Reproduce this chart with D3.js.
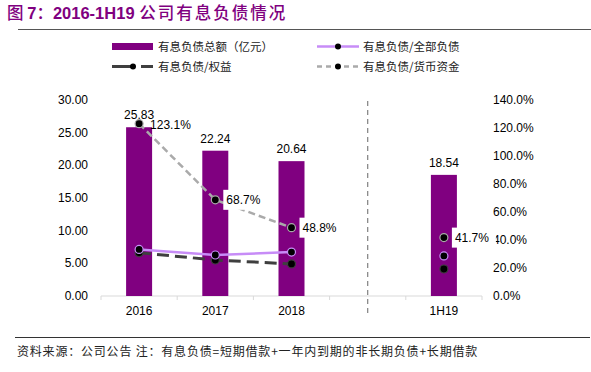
<!DOCTYPE html>
<html lang="zh">
<head>
<meta charset="UTF-8">
<title>2016-1H19 公司有息负债情况</title>
<script src="https://d3js.org/d3.v7.min.js"></script>
<style>
  body { margin: 0; background: #fff; }
  svg { display: block; font-family: "Liberation Sans", Arial, sans-serif; }
  .cjk { font-family: "Noto Sans CJK SC", sans-serif; }
</style>
</head>
<body>
<svg width="591" height="372"></svg>
<script>
// chart data
const categories = ["2016", "2017", "2018", "", "1H19"];
const debtTotal = [25.83, 22.24, 20.64, null, 18.54];        // 有息负债总额（亿元）
const debtToAll = [33.3, 29.3, 31.4, null, 28.6];            // 有息负债/全部负债 (%)
const debtToEquity = [30.9, 25.7, 22.9, null, 19.3];         // 有息负债/权益 (%)
const debtToCash = [123.1, 68.7, 48.8, null, 41.7];          // 有息负债/货币资金 (%)
const leftTicks = [0, 5, 10, 15, 20, 25, 30];
const rightTicks = [0, 20, 40, 60, 80, 100, 120, 140];

const svg = d3.select("svg");
const purple = "#800080", violet = "#c78cf7", grey = "#aaaaaa", dark = "#3f3f3f";

// title + rules
const title = svg.append("text").attr("x", 7).attr("y", 19)
  .attr("fill", purple).attr("font-size", 16.5);
title.append("tspan").attr("class", "cjk").attr("font-weight", 500).text("图 ");
title.append("tspan").attr("font-weight", "bold").text("7");
title.append("tspan").attr("class", "cjk").attr("font-weight", 500).text("：");
title.append("tspan").attr("font-weight", "bold").text("2016-1H19 ");
title.append("tspan").attr("class", "cjk").attr("font-weight", 500)
  .attr("letter-spacing", 2).text("公司有息负债情况");
svg.append("line").attr("x1", 18).attr("x2", 591).attr("y1", 29.5).attr("y2", 29.5)
  .attr("stroke", "#555").attr("stroke-width", 1);
svg.append("line").attr("x1", 15).attr("x2", 590).attr("y1", 337.5).attr("y2", 337.5)
  .attr("stroke", "#333").attr("stroke-width", 1);
svg.append("text").attr("class", "cjk").attr("x", 17).attr("y", 356)
  .attr("font-size", 12).attr("letter-spacing", 0.8).attr("fill", "#222")
  .text("资料来源：公司公告 注：有息负债=短期借款+一年内到期的非长期负债+长期借款");

// scales
const x = d3.scaleBand().domain(categories.map((c, i) => i)).range([101, 482]).padding(0);
const yL = d3.scaleLinear().domain([0, 30]).range([296, 100]);
const yR = d3.scaleLinear().domain([0, 140]).range([296, 100]);
const cx = i => x(i) + x.bandwidth() / 2;

// axes
const gx = svg.append("g").attr("transform", "translate(0,296)");
gx.append("line").attr("x1", 101).attr("x2", 482).attr("stroke", "#d9d9d9");
gx.selectAll(".tk").data(d3.range(categories.length + 1)).join("line")
  .attr("x1", i => 101 + i * x.bandwidth()).attr("x2", i => 101 + i * x.bandwidth())
  .attr("y1", 0).attr("y2", 4).attr("stroke", "#d9d9d9");
gx.selectAll(".lb").data(categories).join("text")
  .attr("x", (d, i) => cx(i)).attr("y", 19).attr("text-anchor", "middle")
  .attr("font-size", 12).attr("fill", "#000").text(d => d);

svg.append("g").selectAll("text").data(leftTicks).join("text")
  .attr("x", 88).attr("y", d => yL(d) + 4).attr("text-anchor", "end")
  .attr("font-size", 12).attr("fill", "#000").text(d => d.toFixed(2));
svg.append("g").selectAll("text").data(rightTicks).join("text")
  .attr("x", 493).attr("y", d => yR(d) + 4)
  .attr("font-size", 12).attr("fill", "#000").text(d => d.toFixed(1) + "%");

// separator
svg.append("line").attr("x1", cx(3)).attr("x2", cx(3)).attr("y1", 101).attr("y2", 316)
  .attr("stroke", "#808080").attr("stroke-width", 1.2).attr("stroke-dasharray", "5,4");

// bars
const bw = 26;
const barData = debtTotal.map((v, i) => ({ v, i })).filter(d => d.v != null);
svg.append("g").selectAll("rect").data(barData).join("rect")
  .attr("x", d => cx(d.i) - bw / 2).attr("width", bw)
  .attr("y", d => yL(d.v)).attr("height", d => 296 - yL(d.v))
  .attr("fill", purple);
svg.append("g").selectAll("text").data(barData).join("text")
  .attr("x", d => cx(d.i)).attr("y", d => yL(d.v) - 8).attr("text-anchor", "middle")
  .attr("font-size", 12).attr("fill", "#000").text(d => d.v.toFixed(2));

// lines
const series = [
  { vals: debtToEquity, color: dark, dash: "12,6", width: 3, mstroke: dark },
  { vals: debtToAll, color: violet, dash: null, width: 2.5, mstroke: violet },
  { vals: debtToCash, color: grey, dash: "7,4", width: 2.5, mstroke: grey }
];
const line = d3.line().defined(d => d.v != null).x(d => cx(d.i)).y(d => yR(d.v));
series.forEach(s => {
  const pts = s.vals.map((v, i) => ({ v, i }));
  svg.append("path").datum(pts).attr("d", line).attr("fill", "none")
    .attr("stroke", s.color).attr("stroke-width", s.width)
    .attr("stroke-dasharray", s.dash);
  svg.append("g").selectAll("circle").data(pts.filter(d => d.v != null)).join("circle")
    .attr("cx", d => cx(d.i)).attr("cy", d => yR(d.v)).attr("r", 4)
    .attr("fill", "#000").attr("stroke", s.mstroke).attr("stroke-width", 1.2);
});

// labels for 有息负债/货币资金
const cashLbl = debtToCash.map((v, i) => ({ v, i })).filter(d => d.v != null);
const lg = svg.append("g").selectAll("g").data(cashLbl).join("g")
  .attr("transform", d => `translate(${cx(d.i) + 8},${yR(d.v)})`);
lg.append("rect").attr("x", 0).attr("y", -10).attr("width", d => d.i === 0 ? 0 : 44).attr("height", 20).attr("fill", "#fff");
lg.append("text").attr("x", 3).attr("y", d => d.i === 0 ? 5 : 4)
  .attr("font-size", 12).attr("fill", "#000").text(d => d.v.toFixed(1) + "%");

// legend
const leg = svg.append("g").attr("class", "cjk").attr("font-size", 11.5).attr("fill", "#222");
leg.append("rect").attr("x", 112).attr("y", 43).attr("width", 41).attr("height", 7).attr("fill", purple);
leg.append("text").attr("x", 158).attr("y", 50.5).text("有息负债总额（亿元）");
leg.append("line").attr("x1", 317).attr("x2", 359).attr("y1", 46.5).attr("y2", 46.5)
  .attr("stroke", violet).attr("stroke-width", 2.5);
leg.append("circle").attr("cx", 338).attr("cy", 46.5).attr("r", 3).attr("fill", "#000");
leg.append("text").attr("x", 363).attr("y", 50.5).text("有息负债/全部负债");
leg.append("line").attr("x1", 112).attr("x2", 153).attr("y1", 66.5).attr("y2", 66.5)
  .attr("stroke", dark).attr("stroke-width", 3).attr("stroke-dasharray", "23,6");
leg.append("circle").attr("cx", 133).attr("cy", 66.5).attr("r", 3).attr("fill", "#000");
leg.append("text").attr("x", 158).attr("y", 70.5).text("有息负债/权益");
leg.append("line").attr("x1", 317).attr("x2", 359).attr("y1", 66.5).attr("y2", 66.5)
  .attr("stroke", grey).attr("stroke-width", 2.5).attr("stroke-dasharray", "5,4");
leg.append("circle").attr("cx", 338).attr("cy", 66.5).attr("r", 3).attr("fill", "#000");
leg.append("text").attr("x", 363).attr("y", 70.5).text("有息负债/货币资金");
</script>
</body>
</html>
